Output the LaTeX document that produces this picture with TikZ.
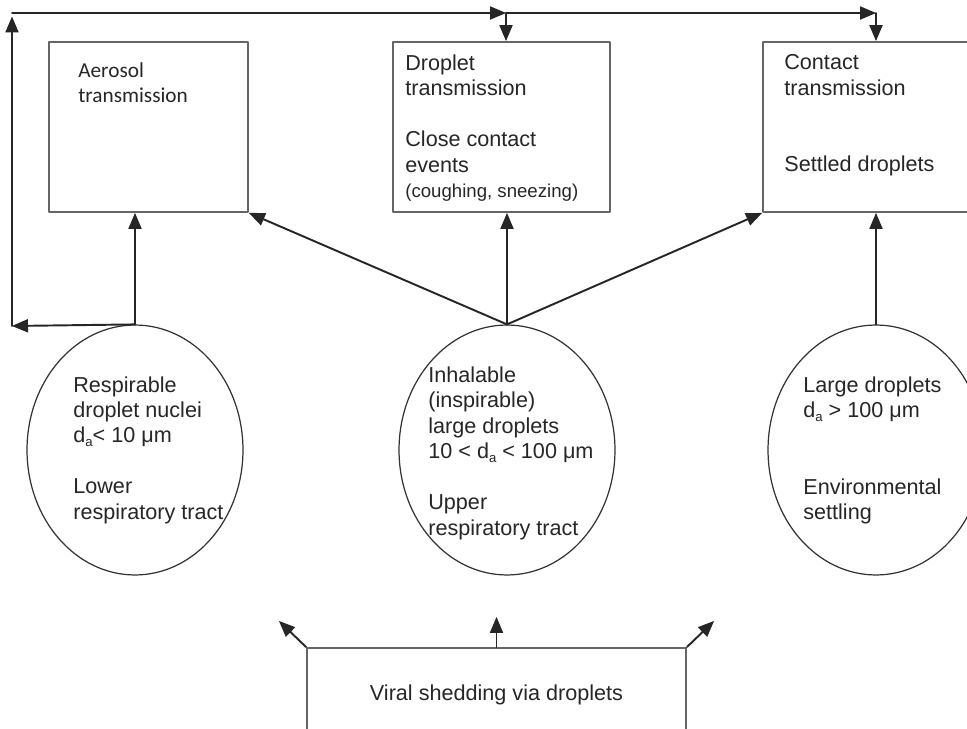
\documentclass[tikz,border=0pt]{standalone}
\usepackage{fontspec}
\setmainfont{Liberation Sans}
\newfontfamily\calfont{Carlito}
\usetikzlibrary{arrows}
\usetikzlibrary{shapes.geometric}
\newcommand{\dsub}{d\raisebox{-0.35ex}{\fontsize{7.5}{8}\selectfont a}}

\begin{document}
\begin{tikzpicture}[line cap=round,line join=round,>=triangle 45,x=0.02cm,y=-0.02cm,
  tbox/.style={draw=black!60,line width=1.1pt,rectangle,inner sep=0pt},
  oval/.style={draw=black!80,line width=0.7pt,ellipse,inner sep=0pt,minimum width=4.32cm,minimum height=5cm},
  txt/.style={anchor=north west,inner sep=0pt,align=left,text=black!85,font=\fontsize{12.3}{14.5}\selectfont},
  link/.style={draw=black!85,line width=1.1pt}]
\useasboundingbox (0,0) rectangle (967,729);
\clip (0,0) rectangle (967,729);
% transmission boxes
\node[tbox,minimum width=3.98cm,minimum height=3.4cm] (aer) at (148.5,127) {};
\node[tbox,minimum width=4.34cm,minimum height=3.4cm] (drop) at (501.5,127) {};
\node[tbox,minimum width=4.52cm,minimum height=3.4cm] (cont) at (876,127) {};
\node[txt,font=\calfont\fontsize{12.1}{14.2}\selectfont] (aertxt) at (78,62) {Aerosol\\transmission};
\node[txt] (droptxt) at (405,54.5) {Droplet\\transmission\\[14.5pt]Close contact\\events\\{\fontsize{10.6}{13}\selectfont(coughing, sneezing)}};
\node[txt] (conttxt) at (784,54.5) {Contact\\transmission\\[29pt]Settled droplets};
%
% droplet sizes
\node[oval] (resp) at (135,450) {};
\node[oval] (inh) at (507,450) {};
\node[oval] (large) at (876,450) {};
\node[txt] (resptxt) at (73,376) {Respirable\\droplet nuclei\\\dsub< 10 μm\\[14.5pt]Lower\\respiratory tract};
\node[txt] (inhtxt) at (428,366.5) {Inhalable\\(inspirable)\\large droplets\\10 < \dsub{} < 100 μm\\[14.5pt]Upper\\respiratory tract};
\node[txt] (largetxt) at (803,376.5) {Large droplets\\\dsub{} > 100 μm\\[29pt]Environmental\\settling};
%
\node[tbox,minimum width=7.58cm,minimum height=1.88cm,text=black!85,font=\fontsize{12.3}{14.5}\selectfont] (shed) at (496.5,695) {Viral shedding via droplets};
%
\coordinate (lt) at (12,326);
\coordinate (tl) at (12,13);
\coordinate (tm) at (506,13);
\coordinate (tr) at (876,13);
\coordinate (sl) at (279,621);
\coordinate (sm) at (496.5,617);
\coordinate (sr) at (714,621);
\draw[link,->] (resp.north) -- (resp.north |- aer.south);
\draw[link,->] (resp.north) -- (lt);
\draw[link,->,shorten >=2pt] (lt) -- (tl);
\draw[link,->] (tl) -- (tm);
\draw[link,->] (tm) -- (tr);
\draw[link,->] (tm) -- (tm |- drop.north);
\draw[link,->] (tr) -- (cont.north);
\draw[link,->] (inh.north) -- (aer.south east);
\draw[link,->] (inh.north) -- (inh.north |- drop.south);
\draw[link,->] (inh.north) -- (cont.south west);
\draw[link,->] (large.north) -- (cont.south);
\draw[link,->] (shed.north west) -- (sl);
\draw[link,->] (shed.north) -- (sm);
\draw[link,->] (shed.north east) -- (sr);
\end{tikzpicture}
\end{document}
